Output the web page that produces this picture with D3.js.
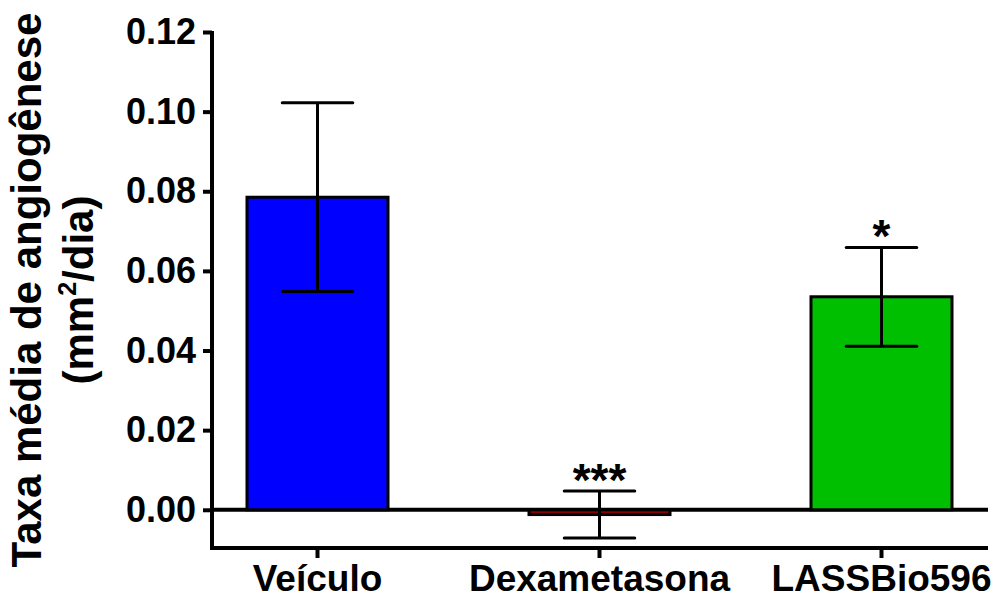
<!DOCTYPE html>
<html>
<head>
<meta charset="utf-8">
<script src="https://cdn.jsdelivr.net/npm/d3@7/dist/d3.min.js"></script>
<style>
  html, body { margin: 0; padding: 0; background: #fff; }
  svg { display: block; font-family: "Liberation Sans", Arial, Helvetica, sans-serif; font-weight: bold; }
</style>
</head>
<body>
<svg id="chart" width="1002" height="599"></svg>
<script>
const categories = ["Veículo", "Dexametasona", "LASSBio596"];
const means = [0.0785, -0.0012, 0.0535];
const sems = [0.0237, 0.0059, 0.0124];
const colors = ["#0000ff", "#8b0000", "#00bf00"];
const significance = ["", "***", "*"];
const yTicks = [0.00, 0.02, 0.04, 0.06, 0.08, 0.10, 0.12];

const svg = d3.select("#chart");
const axisX = 212, plotRight = 988, plotTop = 32, plotBottom = 548;

const y = d3.scaleLinear().domain([-0.0096, 0.12]).range([plotBottom, plotTop]);
const x = d3.scaleBand().domain(categories).range([176.5, 1022.5]).paddingInner(0.5).paddingOuter(0.25);

// Zero line
svg.append("line")
  .attr("x1", axisX).attr("x2", plotRight)
  .attr("y1", y(0)).attr("y2", y(0))
  .attr("stroke", "#000").attr("stroke-width", 4);

// Bars
svg.selectAll("rect.bar").data(categories).join("rect")
  .attr("class", "bar")
  .attr("x", d => x(d))
  .attr("width", x.bandwidth())
  .attr("y", (d, i) => Math.min(y(means[i]), y(0)))
  .attr("height", (d, i) => Math.abs(y(means[i]) - y(0)))
  .attr("fill", (d, i) => colors[i])
  .attr("stroke", "#000").attr("stroke-width", 3);

// Error bars
const capHalf = x.bandwidth() / 4;
categories.forEach((c, i) => {
  const cx = x(c) + x.bandwidth() / 2;
  const top = y(means[i] + sems[i]);
  const bot = y(means[i] - sems[i]);
  const g = svg.append("g").attr("stroke", "#000").attr("stroke-width", 3);
  g.append("line").attr("x1", cx).attr("x2", cx).attr("y1", top).attr("y2", bot);
  g.append("line").attr("x1", cx - capHalf).attr("x2", cx + capHalf).attr("y1", top).attr("y2", top).attr("stroke-linecap", "round");
  g.append("line").attr("x1", cx - capHalf).attr("x2", cx + capHalf).attr("y1", bot).attr("y2", bot).attr("stroke-linecap", "round");
  if (significance[i]) {
    svg.append("text")
      .attr("x", cx).attr("y", top + 5)
      .attr("text-anchor", "middle")
      .attr("font-size", 46)
      .attr("fill", "#000")
      .text(significance[i]);
  }
});

// Y axis
const yAxis = svg.append("g")
  .attr("transform", `translate(${axisX},0)`)
  .call(d3.axisLeft(y).tickValues(yTicks).tickFormat(d3.format(".2f")).tickSize(9).tickSizeOuter(0).tickPadding(7));
yAxis.select(".domain").attr("stroke-width", 4).attr("d", `M0,${plotBottom + 2}V${y(0.12) - 1}`);
yAxis.selectAll(".tick line").attr("stroke-width", 4);
yAxis.selectAll(".tick text").attr("font-size", 36).attr("font-weight", "bold").attr("fill", "#000")
  .attr("font-family", "Liberation Sans, Arial, sans-serif");

// X axis
const xAxis = svg.append("g")
  .attr("transform", `translate(0,${plotBottom})`)
  .call(d3.axisBottom(x).tickSize(10).tickSizeOuter(0));
xAxis.select(".domain").attr("stroke-width", 4).attr("d", `M${axisX},0H${plotRight}`);
xAxis.selectAll(".tick line").attr("stroke-width", 4);
xAxis.selectAll(".tick text").attr("font-size", 37).attr("font-weight", "bold").attr("fill", "#000")
  .attr("font-family", "Liberation Sans, Arial, sans-serif")
  .attr("y", 43).attr("dy", 0);

// Y label
const cy = 290;
const lbl = svg.append("text")
  .attr("transform", `translate(41,${cy}) rotate(-90)`)
  .attr("text-anchor", "middle")
  .attr("font-size", 42)
  .attr("fill", "#000");
lbl.append("tspan").attr("x", 0).attr("y", 0).text("Taxa média de angiogênese");
const l2 = svg.append("text")
  .attr("transform", `translate(93,${cy}) rotate(-90)`)
  .attr("text-anchor", "middle")
  .attr("font-size", 42)
  .attr("fill", "#000");
l2.append("tspan").text("(mm");
l2.append("tspan").attr("font-size", 25).attr("dy", -17).text("2");
l2.append("tspan").attr("dy", 17).text("/dia)");
</script>
</body>
</html>
